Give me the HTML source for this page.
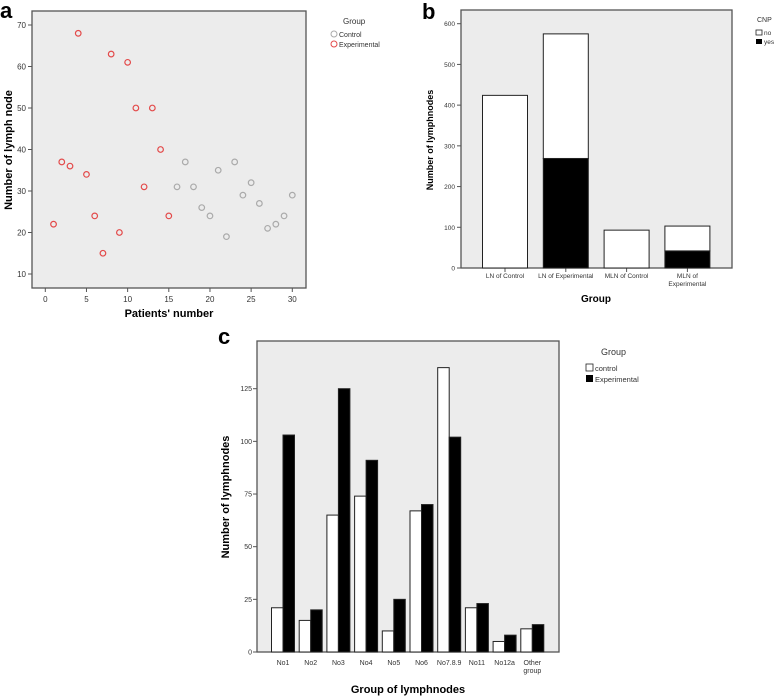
<!DOCTYPE html>
<html><head><meta charset="utf-8"><style>
html,body{margin:0;padding:0;background:#fff;}
svg{display:block;font-family:"Liberation Sans",Arial,sans-serif;}
</style></head><body>
<svg id="fig" width="778" height="697" viewBox="0 0 778 697" xmlns="http://www.w3.org/2000/svg"></svg>
<script>
// Panel a data
const aExpX=[1,2,3,4,5,6,7,8,9,10,11,12,13,14,15];
const aExpY=[22,37,36,68,34,24,15,63,20,61,50,31,50,40,24];
const aCtlX=[16,17,18,19,20,21,22,23,24,25,26,27,28,29,30];
const aCtlY=[31,37,31,26,24,35,19,37,29,32,27,21,22,24,29];
const aXTicks=[0,5,10,15,20,25,30];
const aYTicks=[10,20,30,40,50,60,70];
// Panel b data
const bCats=["LN of Control","LN of Experimental","MLN of Control","MLN of|Experimental"];
const bYes=[0,269,0,42];
const bNo=[424,306,93,61];
const bYTicks=[0,100,200,300,400,500,600];
// Panel c data
const cCats=["No1","No2","No3","No4","No5","No6","No7.8.9","No11","No12a","Other|group"];
const cControl=[21,15,65,74,10,67,135,21,5,11];
const cExp=[103,20,125,91,25,70,102,23,8,13];
const cYTicks=[0,25,50,75,100,125];

const svg=document.getElementById('fig');
const NS="http://www.w3.org/2000/svg";
function mk(tag,attrs,parent){const e=document.createElementNS(NS,tag);for(const k in attrs)e.setAttribute(k,attrs[k]);(parent||svg).appendChild(e);return e;}
function txt(s,attrs,parent){const e=mk('text',attrs,parent);e.textContent=s;return e;}

function frame(x0,y0,x1,y1,name){
  const g=mk('g',{});
  
  
  const r=mk('rect',{x:x0,y:y0,width:x1-x0,height:y1-y0,fill:'#ececec',stroke:'#555','stroke-width':1.3},g);
  
  
  return g;
}

// ---------- Panel a ----------
(function(){
  const X0=32,X1=306,Y0=11,Y1=288;
  const xs=v=>45.3+v*(292.3-45.3)/30;
  const ys=v=>274-(v-10)*(274-25)/60;
  const L=txt('a',{x:0,y:18,'font-size':22,'font-weight':'bold'});
  
  const g=frame(X0,Y0,X1,Y1,'panel-a-plot');
  aXTicks.forEach(t=>{mk('line',{x1:xs(t),x2:xs(t),y1:Y1,y2:Y1+4,stroke:'#555'},g);
    const e=txt(t,{x:xs(t),y:Y1+14,'font-size':8,'text-anchor':'middle',fill:'#333'},g);
    });
  aYTicks.forEach(t=>{mk('line',{x1:X0-4,x2:X0,y1:ys(t),y2:ys(t),stroke:'#555'},g);
    const e=txt(t,{x:X0-6,y:ys(t)+3,'font-size':8,'text-anchor':'end',fill:'#333'},g);
    });
  aExpX.forEach((x,i)=>{const c=mk('circle',{cx:xs(x),cy:ys(aExpY[i]),r:2.8,fill:'none',stroke:'#e34a4a','stroke-width':1.2},g);
    });
  aCtlX.forEach((x,i)=>{const c=mk('circle',{cx:xs(x),cy:ys(aCtlY[i]),r:2.8,fill:'none',stroke:'#aaa','stroke-width':1.2},g);
    });
  let e=txt("Patients' number",{x:169,y:317,'font-size':11,'font-weight':'bold','text-anchor':'middle'});
  
  e=txt('Number of lymph node',{x:12,y:150,'font-size':11,'font-weight':'bold','text-anchor':'middle',transform:'rotate(-90 12 150)'});
  
  const lg=mk('g',{});
  txt('Group',{x:343,y:24,'font-size':8,fill:'#333'},lg);
  mk('circle',{cx:334,cy:34,r:3,fill:'none',stroke:'#aaa','stroke-width':1},lg);
  txt('Control',{x:339,y:37,'font-size':7,fill:'#333'},lg);
  mk('circle',{cx:334,cy:44,r:3,fill:'none',stroke:'#e34a4a','stroke-width':1},lg);
  txt('Experimental',{x:339,y:47,'font-size':7,fill:'#333'},lg);
})();

// ---------- Panel b ----------
(function(){
  const X0=461,X1=732,Y0=10,Y1=268;
  const ys=v=>268-v*(268-23.7)/600;
  const xc=i=>505+i*60.8;const bw=45;
  const L=txt('b',{x:422,y:19,'font-size':22,'font-weight':'bold'});
  
  const g=frame(X0,Y0,X1,Y1,'panel-b-plot');
  bYTicks.forEach(t=>{mk('line',{x1:X0-4,x2:X0,y1:ys(t),y2:ys(t),stroke:'#555'},g);
    const e=txt(t,{x:X0-6,y:ys(t)+2.5,'font-size':6.5,'text-anchor':'end',fill:'#333'},g);
    });
  bCats.forEach((c,i)=>{
    const x=xc(i);
    mk('line',{x1:x,x2:x,y1:Y1,y2:Y1+4,stroke:'#555'},g);
    const parts=c.split('|');
    parts.forEach((p,j)=>{const e=txt(p,{x:x,y:Y1+10+j*8,'font-size':6.5,'text-anchor':'middle',fill:'#333'},g);
      });
    if(bYes[i]>0){const r=mk('rect',{x:x-bw/2,y:ys(bYes[i]),width:bw,height:ys(0)-ys(bYes[i]),fill:'#000',stroke:'#222'},g);
      }
    const r=mk('rect',{x:x-bw/2,y:ys(bYes[i]+bNo[i]),width:bw,height:ys(bYes[i])-ys(bYes[i]+bNo[i]),fill:'#fff',stroke:'#222'},g);
    
  });
  let e=txt('Group',{x:596,y:302,'font-size':10,'font-weight':'bold','text-anchor':'middle'});
  
  e=txt('Number of lymphnodes',{x:433,y:140,'font-size':9,'font-weight':'bold','text-anchor':'middle',transform:'rotate(-90 433 140)'});
  
  const lg=mk('g',{});
  txt('CNP',{x:757,y:22,'font-size':7,fill:'#333'},lg);
  mk('rect',{x:756,y:30,width:6,height:5,fill:'#fff',stroke:'#222','stroke-width':0.8},lg);
  txt('no',{x:764,y:35,'font-size':6.5,fill:'#333'},lg);
  mk('rect',{x:756,y:39,width:6,height:5,fill:'#000'},lg);
  txt('yes',{x:764,y:44,'font-size':6.5,fill:'#333'},lg);
})();

// ---------- Panel c ----------
(function(){
  const X0=257,X1=559,Y0=341,Y1=652;
  const ys=v=>652-v*(652-388.7)/125;
  const xc=i=>283+i*27.7;const bw=11.5;
  const L=txt('c',{x:218,y:344,'font-size':22,'font-weight':'bold'});
  
  const g=frame(X0,Y0,X1,Y1,'panel-c-plot');
  cYTicks.forEach(t=>{mk('line',{x1:X0-4,x2:X0,y1:ys(t),y2:ys(t),stroke:'#555'},g);
    const e=txt(t,{x:X0-5,y:ys(t)+2.5,'font-size':7,'text-anchor':'end',fill:'#333'},g);
    });
  cCats.forEach((c,i)=>{
    const x=xc(i);
    c.split('|').forEach((p,j)=>{const e=txt(p,{x:x,y:Y1+13+j*8,'font-size':7,'text-anchor':'middle',fill:'#333'},g);
      });
    let r=mk('rect',{x:x-bw,y:ys(cControl[i]),width:bw,height:ys(0)-ys(cControl[i]),fill:'#fff',stroke:'#222'},g);
    
    r=mk('rect',{x:x,y:ys(cExp[i]),width:bw,height:ys(0)-ys(cExp[i]),fill:'#000',stroke:'#222'},g);
    
  });
  let e=txt('Group of lymphnodes',{x:408,y:693,'font-size':11,'font-weight':'bold','text-anchor':'middle'});
  
  e=txt('Number of lymphnodes',{x:229,y:497,'font-size':11,'font-weight':'bold','text-anchor':'middle',transform:'rotate(-90 229 497)'});
  
  const lg=mk('g',{});
  txt('Group',{x:601,y:355,'font-size':9,fill:'#333'},lg);
  mk('rect',{x:586,y:364,width:7,height:7,fill:'#fff',stroke:'#222','stroke-width':0.8},lg);
  txt('control',{x:595,y:371,'font-size':7.5,fill:'#333'},lg);
  mk('rect',{x:586,y:375,width:7,height:7,fill:'#000'},lg);
  txt('Experimental',{x:595,y:382,'font-size':7.5,fill:'#333'},lg);
})();
</script>
</body></html>
